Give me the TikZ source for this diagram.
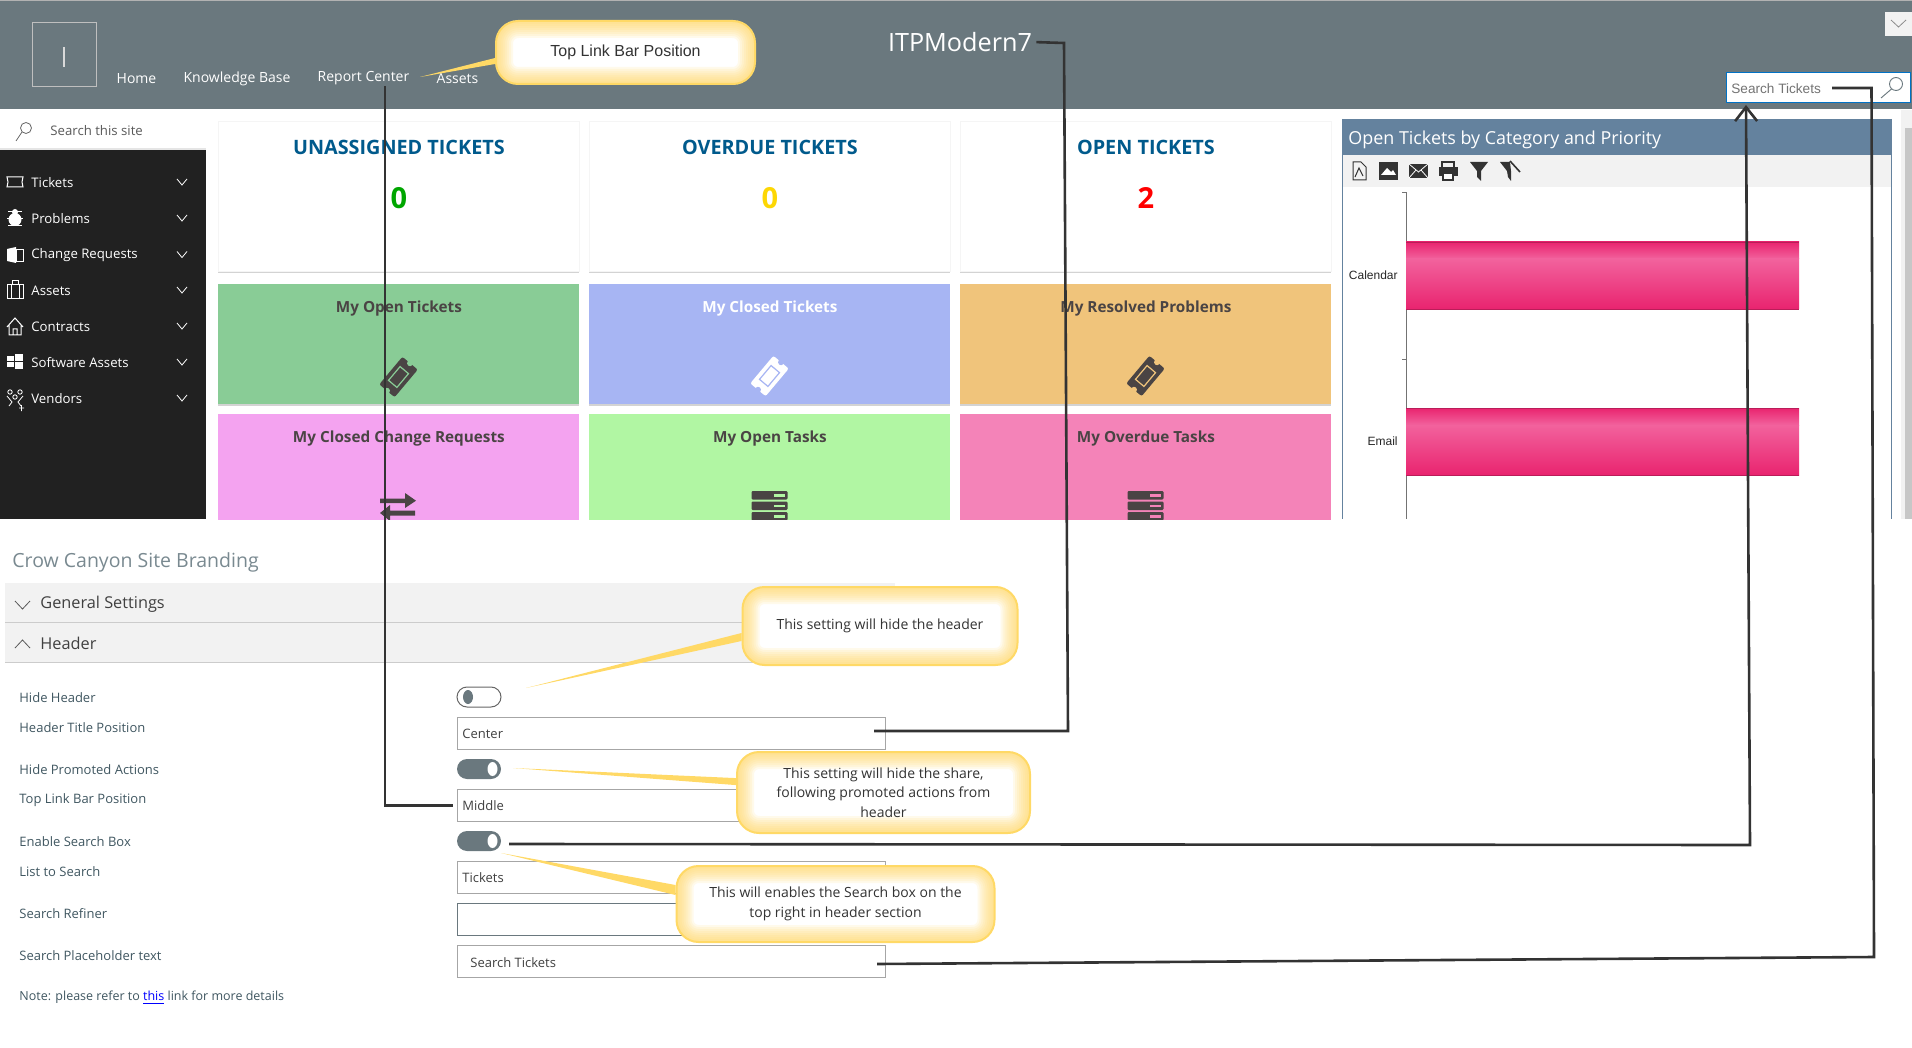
\documentclass[tikz,border=0pt]{standalone}
\usepackage{fontspec}
\setmainfont{Open Sans}
\newfontfamily\arialfont{Liberation Sans}
\usetikzlibrary{calc,arrows,arrows.meta,shadows}

\definecolor{headgray}{HTML}{6A787E}
\definecolor{sidedark}{HTML}{212121}
\definecolor{linedark}{HTML}{333333}
\definecolor{callline}{HTML}{FFD966}
\definecolor{ticketblue}{HTML}{005A8C}
\definecolor{chartblue}{HTML}{64829E}
\definecolor{icondark}{HTML}{4A4444}
\definecolor{labelcol}{HTML}{3F5660}
\definecolor{barpink}{HTML}{E9246F}
\definecolor{barlight}{HTML}{F2629D}
\definecolor{searchblue}{HTML}{0072C6}

\tikzset{
  toptext/.style={text=white, inner sep=0pt, font=\fontsize{7}{8}\selectfont},
  sidetext/.style={text=white, inner sep=0pt, anchor=west, font=\fontsize{6.6}{8}\selectfont},
  cardtitle/.style={inner sep=0pt, text=ticketblue, font=\fontsize{9.9}{11}\selectfont\bfseries},
  cardnum/.style={inner sep=0pt, font=\fontsize{14.5}{16}\selectfont\bfseries},
  tiletitle/.style={inner sep=0pt, text=icondark, font=\fontsize{7.65}{9}\selectfont\bfseries},
  tile/.style={anchor=north west, inner sep=0pt, drop shadow={shadow xshift=0pt, shadow yshift=-1pt, opacity=.35}},
  formlabel/.style={inner sep=0pt, anchor=west, text=labelcol, font=\fontsize{6.5}{8}\selectfont},
  field/.style={draw=black!35, line width=.6pt, fill=white, anchor=north west, minimum width=214pt, minimum height=16pt, inner sep=2.5pt},
  fieldtext/.style={inner sep=0pt, anchor=west, text=black!75, font=\fontsize{6.5}{8}\selectfont},
  callbox/.style={draw=callline, line width=1pt, fill=white, rounded corners=11pt, align=center, inner sep=0pt, text=black!80,
    font=\fontsize{7}{9.7}\selectfont,
    path picture={\foreach \w in {34,30,...,2}
      \draw[callline, opacity=.13, line width=\w*.5pt] (path picture bounding box.south west) rectangle (path picture bounding box.north east);}},
  callpoint/.style={fill=callline},
  wire/.style={draw=linedark, line width=1.3pt},
}

\newcommand{\ticketicon}[4]{% x, y, ink, paper
  \begin{scope}[shift={(#1,#2)}, rotate=50]
    \fill[#3, rounded corners=1pt] (-18,-10) rectangle (18,10);
    \fill[#4] (-18,0) circle (3) (18,0) circle (3);
    \draw[#4, line width=.6pt] (-9,-5.5) rectangle (9,5.5);
  \end{scope}}
\newcommand{\stackicon}[2]{% x, tile colour
  \foreach \ys in {491,501.5,512} {
    \fill[icondark, rounded corners=.6pt] (#1-18,\ys) rectangle (#1+18,\ys+8.5);
    \fill[#2] (#1+4,\ys+3) rectangle (#1+15,\ys+5.5);
  }}

\begin{document}
\begin{tikzpicture}[x=.5pt, y=-.5pt]
  \useasboundingbox (0,0) rectangle (1912,1048);

  % Header bar
  \fill[headgray] (0,0) rectangle (1912,109);
  \fill[black!30] (0,0) rectangle (1912,1.5);
  \draw[black!25, line width=.5pt] (32,23) rectangle (96,86.5);
  \draw[white!85!black, line width=.6pt] (64,47) -- (64,67);
  \foreach \nm/\x/\txt in {home/136.5/Home, kb/237/Knowledge Base, report/363.5/Report Center, assets/457.5/Assets}
    \node[toptext] (nav\nm) at (\x,78.5) {\txt};
  \node[inner sep=0pt, text=white, font=\fontsize{12.6}{15}\selectfont] (sitetitle) at (960,42) {ITPModern7};

  % Top right box and search
  \fill[black!5] (1885,12) rectangle (1912,36);
  \draw[black!45, line width=.4pt] (1891,20) -- (1898.5,27) -- (1906,20);
  \node[draw=searchblue, line width=.6pt, fill=white, anchor=north west, minimum width=92pt, minimum height=15pt, inner sep=0pt] (searchtop) at (1725.5,72) {};
  \node[inner sep=0pt, anchor=west, text=black!55, font=\arialfont\fontsize{6.8}{8}\selectfont] (searchword) at (1731,88.5) {Search Tickets};
  \draw[headgray, line width=.45pt] (1896,84) circle (6.5) (1891.5,89) -- (1881,98);

  % Right scroll bar
  \fill[black!5] (1901,110) rectangle (1912,519);
  \fill[black!22] (1905,128) rectangle (1912,519);

  % Side bar
  \fill[black!10] (0,148) rectangle (206,150);
  \draw[black!60, line width=.4pt] (26,128) circle (5.5) (22,132) -- (16,141);
  \node[inner sep=0pt, anchor=west, text=black!65, font=\fontsize{6.6}{8}\selectfont] (sitesearch) at (50,131) {Search this site};
  \fill[sidedark] (0,150) rectangle (206,519);
  \foreach \nm/\y/\txt in {tickets/182/Tickets, problems/218/Problems, change/254.5/Change Requests, assets/290/Assets, contracts/326/Contracts, software/362/Software Assets, vendors/398/Vendors} {
    \node[sidetext] (side\nm) at (31,\y+.5) {\txt};
    \draw[white, line width=.4pt] (177,\y-3) -- (182,\y+3) -- (187,\y-3);
  }
  % Side bar icons
  \draw[white, line width=.5pt] (7,177) -- (23,177) -- (22,182) -- (23,187) -- (7,187) -- (8,182) -- cycle;
  \fill[white] (15,219.5) ellipse (6.5 and 6.5) (15,212) circle (3);
  \draw[white, line width=.4pt] (8,211) -- (22,211) (7,218) -- (23,218) (8,225) -- (22,225);
  \fill[white] (7,249) -- (16,247) -- (16,263) -- (7,261) -- cycle;
  \draw[white, line width=.4pt] (16,249) rectangle (23,261);
  \draw[white, line width=.5pt] (7,285) rectangle (23,299) (11,285) -- (11,299) (19,285) -- (19,299) (12,285) -- (12,281) -- (18,281) -- (18,285);
  \draw[white, line width=.5pt] (7,327) -- (15,318) -- (23,327) (9,325) -- (9,335) -- (21,335) -- (21,325) (13,335) -- (13,329) -- (17,329) -- (17,335);
  \foreach \ax/\ay/\bx/\by in {7/356/14/360.5, 15/354/23/360.5, 7/362/14/367, 15/362/23/369}
    \fill[white] (\ax,\ay) rectangle (\bx,\by);
  \draw[white, line width=.4pt] (10,392) circle (2.2) (20,392) circle (2.2) (15,397) circle (2.2) (7,396) -- (12,402) -- (9,406) (23,396) -- (18,402) -- (21,406) (19,408) -- (24,408) (21.5,405) -- (21.5,411);

  % Cards and tiles
  \foreach \n/\x/\w/\txt/\num/\col in {1/218/180.5/UNASSIGNED TICKETS/0/green!65!black, 2/589/180.5/OVERDUE TICKETS/0/yellow!75!orange, 3/960/185.5/OPEN TICKETS/2/red} {
    \node[tile, fill=white, draw=black!4, minimum width=\w pt, minimum height=75pt] (card\n) at (\x,121) {};
    \node[cardtitle] (cardtitle\n) at ($(card\n.north)+(0,26.5)$) {\txt};
    \node[cardnum, text=\col] (cardnum\n) at ($(card\n.north)+(0,77.5)$) {\num};
  }
  \definecolor{tilea}{HTML}{89CC96}
  \definecolor{tileb}{HTML}{A7B5F3}
  \definecolor{tilec}{HTML}{F0C47B}
  \definecolor{tiled}{HTML}{F4A3F0}
  \definecolor{tilee}{HTML}{B1F6A3}
  \definecolor{tilef}{HTML}{F483B8}
  \foreach \n/\x/\w/\col/\ink/\txt in {a/218/180.5/tilea/icondark/My Open Tickets, b/589/180.5/tileb/white/My Closed Tickets, c/960/185.5/tilec/icondark/My Resolved Problems} {
    \node[tile, fill=\col, minimum width=\w pt, minimum height=60pt] (tile\n) at (\x,284) {};
    \node[tiletitle, text=\ink] (tiletitle\n) at ($(tile\n.north)+(0,24.5)$) {\txt};
  }
  \ticketicon{398.5}{377}{icondark}{tilea}
  \ticketicon{769.5}{376}{white}{tileb}
  \ticketicon{1145.5}{376}{icondark}{tilec}
  \begin{scope}
    \clip (0,0) rectangle (1912,519);
    \foreach \n/\x/\w/\col/\txt in {d/218/180.5/tiled/My Closed Change Requests, e/589/180.5/tilee/My Open Tasks, f/960/185.5/tilef/My Overdue Tasks} {
      \node[tile, fill=\col, minimum width=\w pt, minimum height=60pt] (tile\n) at (\x,414) {};
      \node[tiletitle] (tiletitle\n) at ($(tile\n.north)+(0,24.5)$) {\txt};
    }
    \stackicon{769.5}{tilee}
    \stackicon{1145.5}{tilef}
    \fill[icondark] (380,498.5) -- (405,498.5) -- (405,493) -- (416,500.7) -- (405,508) -- (405,503) -- (380,503) -- cycle;
    \fill[icondark] (415,510.5) -- (390,510.5) -- (390,505) -- (380,513) -- (390,521) -- (390,515.5) -- (415,515.5) -- cycle;
  \end{scope}

  % Chart panel
  \fill[chartblue] (1342,119) rectangle (1891,155);
  \fill[black!5] (1342,155) rectangle (1891,187);
  \draw[chartblue, line width=.5pt] (1342,119) -- (1342,519) (1891,119) -- (1891,519);
  \node[inner sep=0pt, anchor=west, text=white, font=\fontsize{8.95}{10}\selectfont] (charttitle) at (1348,139.5) {Open Tickets by Category and Priority};
  % Toolbar icons
  \draw[linedark, line width=.5pt] (1353,162) -- (1361,162) -- (1366,167) -- (1366,180) -- (1353,180) -- cycle (1355,177) -- (1359,168) -- (1363,176);
  \fill[linedark] (1379,162) rectangle (1398,180);
  \fill[white] (1381,175) -- (1387,168) -- (1391,172) -- (1393,170) -- (1396,175) -- cycle;
  \fill[linedark] (1409,164) rectangle (1428,178);
  \draw[white, line width=.4pt] (1409,164) -- (1418.5,172) -- (1428,164) (1409,178) -- (1416,170) (1428,178) -- (1421,170);
  \draw[linedark, line width=.7pt] (1442,168) -- (1442,162) -- (1454,162) -- (1454,168);
  \fill[linedark] (1439,167) rectangle (1458,176);
  \draw[linedark, fill=white, line width=.6pt] (1443,173) rectangle (1453,180);
  \fill[linedark] (1470,162) -- (1488,162) -- (1481,171) -- (1481,181) -- (1477,177) -- (1477,171) -- cycle;
  \fill[linedark] (1500,162) -- (1510,162) -- (1511,171) -- (1511,181) -- (1508,177) -- (1507,171) -- cycle;
  \draw[linedark, line width=.8pt] (1510,161) -- (1520,172);
  % Axis and bars
  \draw[black!55, line width=.4pt] (1402,192) -- (1406,192) -- (1406,519) (1402,359) -- (1406,359);
  \foreach \nm/\ya/\txt in {calendar/242/Calendar, email/408/Email} {
    \shade[top color=barpink, bottom color=barlight] (1406,\ya) rectangle (1799,\ya+17);
    \shade[top color=barlight, bottom color=barpink] (1406,\ya+17) rectangle (1799,\ya+67);
    \draw[barpink!80!black, line width=.3pt] (1406,\ya) -- (1799,\ya) (1406,\ya+67) -- (1799,\ya+67);
    \node[inner sep=0pt, anchor=east, text=black!85, font=\arialfont\fontsize{6}{8}\selectfont] (bar\nm) at (1398,\ya+33.5) {\txt};
  }

  % Lower panel headings
  \node[inner sep=0pt, anchor=west, text=labelcol!70, font=\fontsize{9.75}{12}\selectfont] (branding) at (12,562) {Crow Canyon Site Branding};
  \fill[black!5] (5,583) rectangle (895,622);
  \fill[black!5] (5,623) rectangle (895,662);
  \draw[black!20, line width=.5pt] (5,622) -- (895,622) (5,662) -- (895,662);
  \node[inner sep=0pt, anchor=west, text=black!75, font=\fontsize{8.15}{10}\selectfont] (general) at (40,604) {General Settings};
  \node[inner sep=0pt, anchor=west, text=black!75, font=\fontsize{8.15}{10}\selectfont] (headersec) at (40,643) {Header};
  \draw[black!65, line width=.4pt] (15,601) -- (22.5,609) -- (30,601) (15,648) -- (22.5,640) -- (30,648);

  % Form labels
  \foreach \nm/\y/\txt in {hide/697.5/Hide Header, title/727.5/Header Title Position, promoted/769.5/Hide Promoted Actions, toplink/800.5/Top Link Bar Position, enable/842/Enable Search Box, list/872/List to Search, refiner/914/Search Refiner, holder/956/Search Placeholder text}
    \node[formlabel] (label\nm) at (19,\y) {\txt};
  \node[formlabel, font=\fontsize{6.25}{8}\selectfont] (labelnote) at (19,998) {Note: please refer to \textcolor{blue}{\underline{this}} link for more details};

  % Toggles
  \node[draw=black!60, line width=.5pt, fill=white, rounded corners=5pt, minimum width=22pt, minimum height=10pt, inner sep=0pt] (togglehide) at (479,697) {};
  \fill[headgray] (468,697) ellipse (5 and 7);
  \foreach \nm/\y in {promoted/769, search/841} {
    \node[fill=headgray, rounded corners=5pt, minimum width=22pt, minimum height=10pt, inner sep=0pt] (toggle\nm) at (479,\y) {};
    \fill[white] (492.5,\y) ellipse (5 and 7);
  }

  % Fields
  \foreach \nm/\y in {center/717, middle/789, tickets/861, placeholder/945}
    \node[field] (field\nm) at (457,\y) {};
  \node[field, draw=headgray] (fieldrefiner) at (457,903) {};
  \foreach \nm/\x/\y/\txt in {center/462/734/Center, middle/462/806/Middle, tickets/462/878/Tickets, holder/470/963/Search Tickets}
    \node[fieldtext] (text\nm) at (\x,\y) {\txt};

  % Callouts
  \node[callbox, minimum width=129.5pt, minimum height=31.5pt, font=\arialfont\fontsize{8}{9}\selectfont] (calltop) at (625.5,52.5) {Top Link Bar Position};
  \node[callbox, minimum width=137.5pt, minimum height=39pt] (callheader) at (880,626) {\raisebox{-.5pt}{This setting will hide the header}};
  \node[callbox, minimum width=146.5pt, minimum height=40.5pt] (callactions) at (883.5,792.5) {This setting will hide the share,\\following promoted actions from\\header};
  \node[callbox, minimum width=159pt, minimum height=38pt] (callsearch) at (835.5,904) {This will enables the Search box on the\\top right in header section};

  \coordinate (tiptop) at (420,77);
  \coordinate (tipheader) at (526,688);
  \coordinate (tipactions) at (513,768);
  \coordinate (tipsearch) at (501,853);
  \fill[callpoint] (tiptop) -- ([yshift=-2.75pt]calltop.west) -- ([yshift=-5.75pt]calltop.west) -- cycle;
  \fill[callpoint] (tipheader) -- ([yshift=-3.5pt]callheader.west) -- ([yshift=-7.5pt]callheader.west) -- cycle;
  \fill[callpoint] (tipactions) -- ([yshift=7.2pt]callactions.west) -- ([yshift=3.7pt]callactions.west) -- cycle;
  \fill[callpoint] (tipsearch) -- ([yshift=9.5pt]callsearch.west) -- ([yshift=4.5pt]callsearch.west) -- cycle;

  % Connectors
  \coordinate (linkdrop) at (385,86);
  \draw[wire, shorten >=2pt] (linkdrop) |- (fieldmiddle.west);

  \coordinate (titlebend) at (1064,43);
  \coordinate (titlelow) at (1068,731);
  \coordinate (centerend) at (874,731);
  \draw[wire, shorten <=2pt] (sitetitle.east) -- (titlebend) -- (titlelow) -- (centerend);

  \coordinate (togglelow) at (1750,845);
  \coordinate (searchstart) at (509,844);
  \coordinate (searchtip) at (1746,105);
  \draw[wire, ->, >={Straight Barb[length=7pt,width=11pt]}] (searchstart) -- (togglelow) -- (searchtip);

  \coordinate (holderstart) at (877,964);
  \coordinate (holderlow) at (1874,957);
  \coordinate (holdertop) at (1871.5,88);
  \coordinate (holderend) at (1832,88);
  \draw[wire] (holderstart) -- (holderlow) -- (holdertop) -- (holderend);
\end{tikzpicture}
\end{document}
